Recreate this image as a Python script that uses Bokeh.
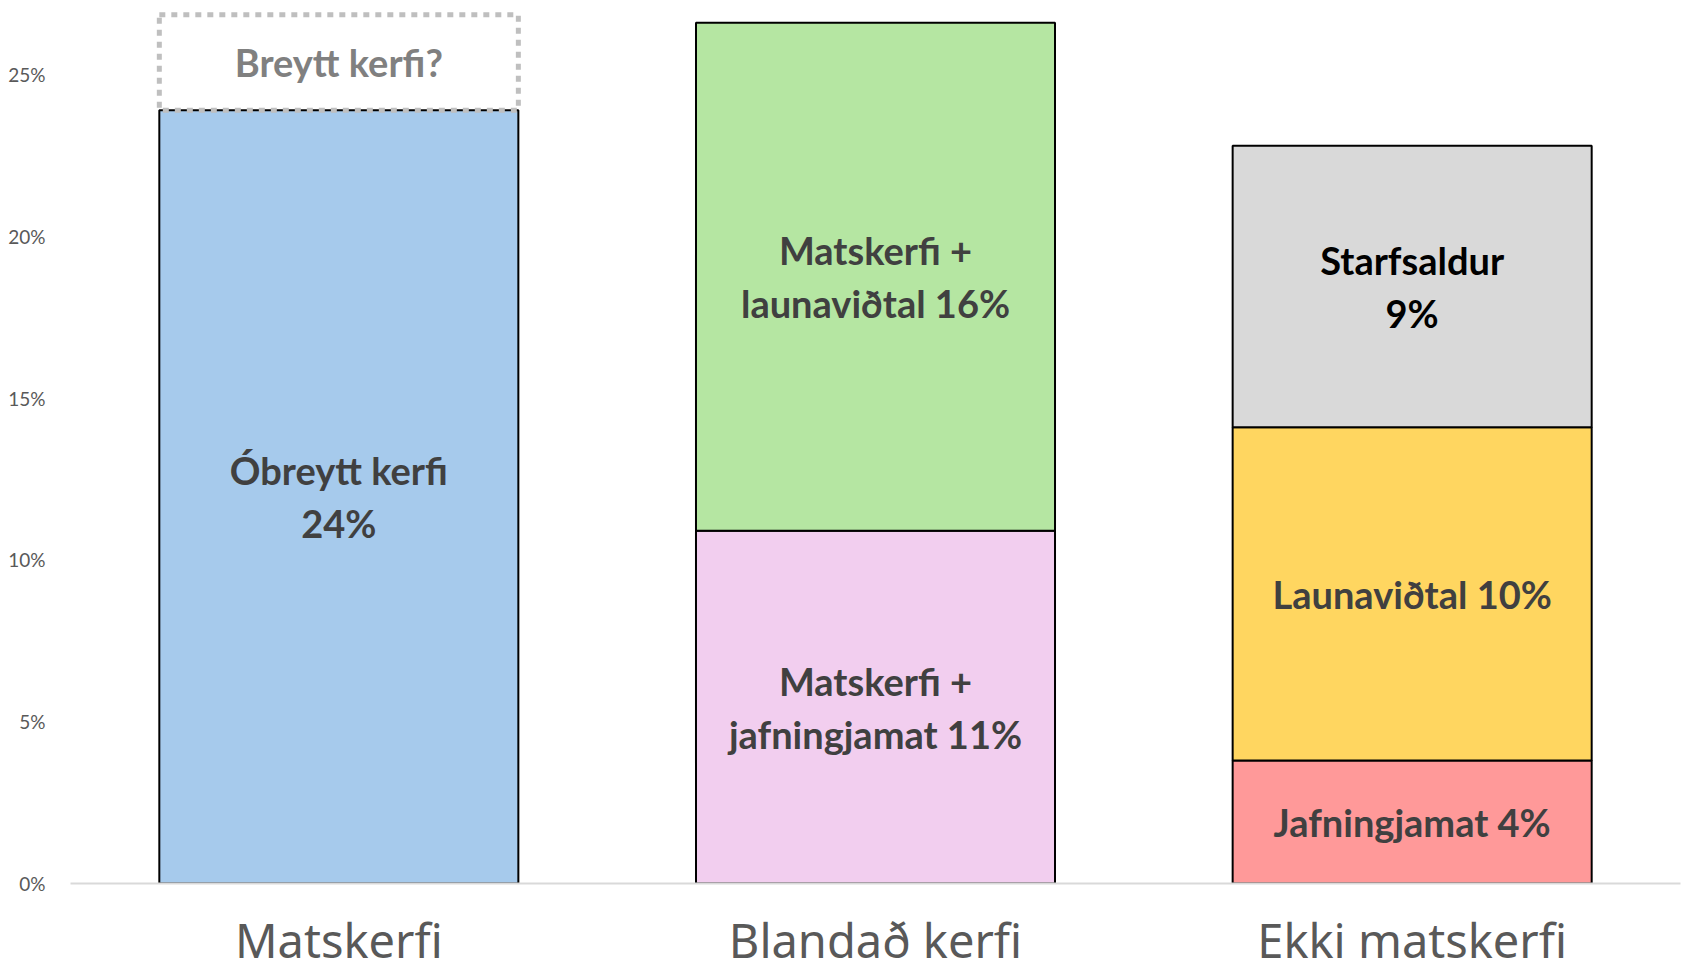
from bokeh.plotting import figure
from bokeh.models import ColumnDataSource, FixedTicker, PrintfTickFormatter, Range1d, FactorRange
from bokeh.core.properties import value
from bokeh.embed import file_html
from bokeh.resources import INLINE

# ---- data ----
categories = ["Matskerfi", "Blandað kerfi", "Ekki matskerfi"]
seg_category = ["Matskerfi", "Blandað kerfi", "Blandað kerfi",
                "Ekki matskerfi", "Ekki matskerfi", "Ekki matskerfi"]
seg_values = [23.9, 10.9, 15.7, 3.8, 10.3, 8.7]
seg_labels = ["Óbreytt kerfi\n24%", "Matskerfi +\njafningjamat 11%", "Matskerfi +\nlaunaviðtal 16%",
              "Jafningjamat 4%", "Launaviðtal 10%", "Starfsaldur\n9%"]
extra_category = ["Matskerfi"]
extra_values = [2.95]
extra_labels = ["Breytt kerfi?"]
y_ticks = [0, 5, 10, 15, 20, 25]

# ---- styles ----
seg_colors = ["#A6CAEC", "#F2CEEF", "#B5E6A2", "#FF9999", "#FFD660", "#D9D9D9"]
seg_text_colors = ["#404040", "#404040", "#404040", "#404040", "#404040", "#000000"]

# stacking
bottoms, tops, mids = [], [], []
acc = {}
for c, v in zip(seg_category, seg_values):
    b = acc.get(c, 0.0)
    bottoms.append(b)
    tops.append(b + v)
    mids.append(b + v / 2)
    acc[c] = b + v

src = ColumnDataSource(dict(cat=seg_category, bottom=bottoms, top=tops, mid=mids,
                            label=seg_labels, color=seg_colors, tcolor=seg_text_colors))

ex_b = [acc[c] for c in extra_category]
ex_t = [b + v for b, v in zip(ex_b, extra_values)]
ex_m = [b + v / 2 for b, v in zip(ex_b, extra_values)]
src2 = ColumnDataSource(dict(cat=extra_category, bottom=ex_b, top=ex_t, mid=ex_m, label=extra_labels))

p = figure(x_range=FactorRange(*categories), y_range=Range1d(0, 26.95),
           width=1685, height=976, output_backend="svg", toolbar_location=None,
           min_border_left=70, min_border_right=5, min_border_top=11, min_border_bottom=93)

BW = 0.669
p.vbar(x="cat", bottom="bottom", top="top", width=BW, source=src,
       fill_color="color", line_color="#000000", line_width=2)
p.vbar(x="cat", bottom="bottom", top="top", width=BW, source=src2,
       fill_color="white", fill_alpha=0.0, line_color="#BFBFBF", line_width=5, line_dash="6 6")

p.text(x="cat", y="mid", text="label", source=src, text_font=value("Lato"),
       text_font_style="bold", text_font_size="38px", text_align="center",
       text_baseline="middle", text_color="tcolor", text_line_height=1.15)
p.text(x="cat", y="mid", text="label", source=src2, text_font=value("Lato"),
       text_font_style="bold", text_font_size="38px", text_align="center",
       text_baseline="middle", text_color="#808080")

p.outline_line_color = None
p.xgrid.grid_line_color = None
p.ygrid.grid_line_color = None

p.yaxis.ticker = FixedTicker(ticks=y_ticks)
p.yaxis.formatter = PrintfTickFormatter(format="%d%%")
p.yaxis.axis_line_color = None
p.yaxis.major_tick_line_color = None
p.yaxis.minor_tick_line_color = None
p.yaxis.major_label_text_font = "Lato"
p.yaxis.major_label_text_font_size = "19px"
p.yaxis.major_label_text_color = "#595959"
p.yaxis.major_label_standoff = 19

p.xaxis.axis_line_color = "#D9D9D9"
p.xaxis.axis_line_width = 2
p.xaxis.major_tick_line_color = None
p.xaxis.minor_tick_line_color = None
p.xaxis.major_label_text_font = "Noto Sans"
p.xaxis.major_label_text_font_size = "47px"
p.xaxis.major_label_text_color = "#595959"
p.xaxis.major_label_standoff = 18

open("out.html", "w").write(file_html(p, INLINE))
